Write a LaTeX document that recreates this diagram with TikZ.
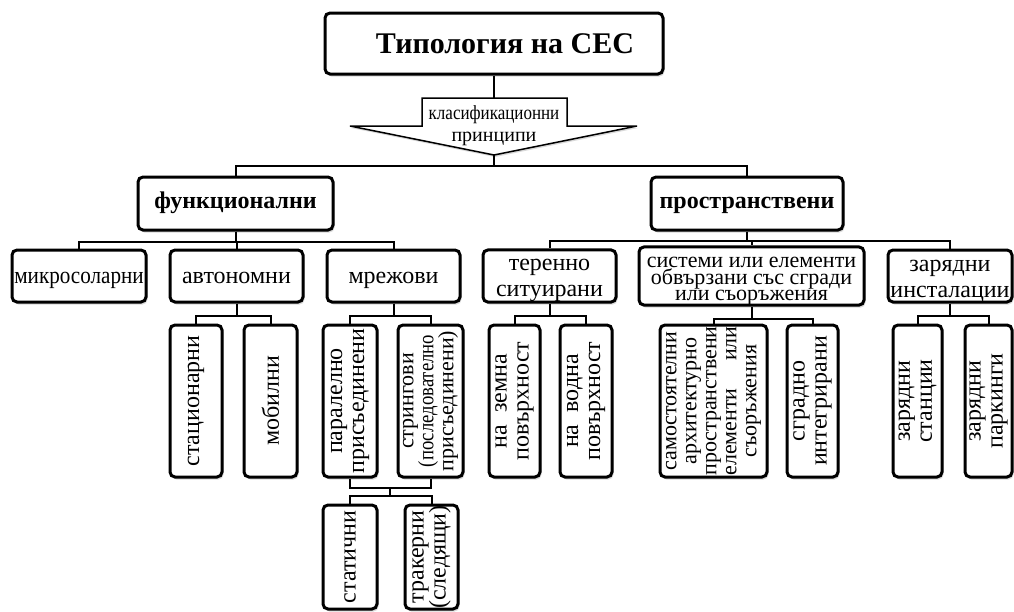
\documentclass[tikz,border=0pt]{standalone}
\usepackage{graphicx}
\usepackage{calc}
\usepackage{fontspec}
\setmainfont{Liberation Serif}
\usetikzlibrary{shadows,calc}

\begin{document}
\begin{tikzpicture}[x=1pt,y=-1pt,
box/.style={draw,line width=3pt,rounded corners=5pt,fill=white,inner sep=0pt,align=center,
  drop shadow={shadow xshift=1.5pt,shadow yshift=-2.5pt,opacity=0.3}},
rootbox/.style={box,minimum width=338pt,minimum height=61pt,text height=26pt,text depth=7pt,
  font=\fontsize{30}{32}\selectfont\bfseries},
groupbox/.style={box,minimum width=195pt,minimum height=53pt,text height=15pt,text depth=5pt,
  font=\fontsize{24}{26}\selectfont\bfseries},
kindbox/.style={box,minimum width=133pt,minimum height=52pt,font=\fontsize{24}{26}\selectfont},
oneline/.style={text height=20pt,text depth=5pt},
leafbox/.style={box,rotate=90,minimum width=152pt,font=\fontsize{24}{22}\selectfont},
link/.style={line width=2pt}]
\useasboundingbox (0,0) rectangle (1014,611);
\node[rootbox] (sec) at (494,43.5) {\hspace*{22pt}Типология на СЕС};
\coordinate (arrtop) at (494,98);
\coordinate (arrtip) at (494,155);
\draw[line width=1.5pt,fill=white,drop shadow={shadow xshift=1pt,shadow yshift=-2pt,opacity=0.3}]
(422,98)--(567,98)--(567,126)--(637,126)--(arrtip)--(350,126)--(422,126)--cycle;
\node[font=\fontsize{20}{22}\selectfont,align=center] (princ) at (494,126) {\scalebox{0.85}[1]{класификационни}\\принципи};

\node[groupbox] (fun) at (235.5,203.5) {функционални};
\node[groupbox,minimum width=192pt] (spat) at (747,203.5) {пространствени};

\node[kindbox,oneline,minimum width=134pt] (micro) at (79,276) {\scalebox{0.88}[1]{микросоларни}};
\node[kindbox,oneline] (auto) at (236.5,276) {автономни};
\node[kindbox,oneline] (grid) at (393.5,276) {мрежови};
\node[kindbox] (ground) at (549.5,276) {\rule{0pt}{21pt}теренно\\ситуирани};
\node[kindbox,minimum width=225pt,font=\fontsize{22}{15.5}\selectfont] (build) at (751.5,276) {\rule{0pt}{21pt}системи или елементи\\обвързани със сгради\\или съоръжения};
\node[kindbox,minimum width=124pt] (charge) at (950,276) {\rule{0pt}{21pt}зарядни\\инсталации};

\node[leafbox,minimum height=52pt] (stac) at (196,401) {стационарни};
\node[leafbox,minimum height=53pt] (mob) at (270.5,401) {мобилни};
\node[leafbox,minimum height=54pt] (par) at (350,401) {паралелно\\присъединени};
\node[leafbox,minimum height=65pt,font=\fontsize{22}{20}\selectfont] (str) at (430.5,401) {стрингови\\\scalebox{0.85}[1]{(последователно}\\присъединени)};
\node[leafbox,minimum height=51pt] (land) at (514.5,401) {на\hspace{12pt}земна\\повърхност};
\node[leafbox,minimum height=52pt] (water) at (586,401) {на\hspace{12pt}водна\\повърхност};
\node[leafbox,minimum height=107pt,font=\fontsize{22}{20}\selectfont] (indep) at (713.5,401) {самостоятелни\\архитектурно\\пространствени\\\makebox[\widthof{пространствени}][s]{елементи\hfill или}\\съоръжения};
\node[leafbox,minimum height=51pt] (integ) at (812.5,401) {сградно\\интегрирани};
\node[leafbox,minimum height=49pt] (stat) at (917.5,401) {зарядни\\станции};
\node[leafbox,minimum height=47pt] (park) at (988.5,401) {зарядни\\паркинги};

\node[leafbox,minimum width=104pt,minimum height=54pt] (still) at (350,557) {статични};
\node[leafbox,minimum width=104pt,minimum height=53pt] (track) at (431.5,557) {тракерни\\(следящи)};

\draw[link] (sec.south)--(arrtop);
\draw[link] (arrtip)--++(0,11)-|(fun.north);
\draw[link] (arrtip)--++(0,11)-|(spat.north);
\foreach \c in {micro,auto,grid} \draw[link] (fun.south)--++(0,10)-|(\c.north);
\foreach \c in {ground,build,charge} \draw[link] (spat.south)--++(0,9)-|(\c.north);
\foreach \p/\c in {auto/stac,auto/mob,grid/par,grid/str,ground/land,ground/water,build/indep,build/integ,charge/stat,charge/park}
  \draw[link] (\p.south)--++(0,12)-|(\c.east);
\draw[link] (par.west)--++(0,9) coordinate (m1)-|(str.west);
\draw[link] ($(m1)!.5!(str.west|-m1)$)--++(0,8) coordinate (m2)-|(still.east);
\draw[link] (m2)-|(track.east);
\end{tikzpicture}
\end{document}
